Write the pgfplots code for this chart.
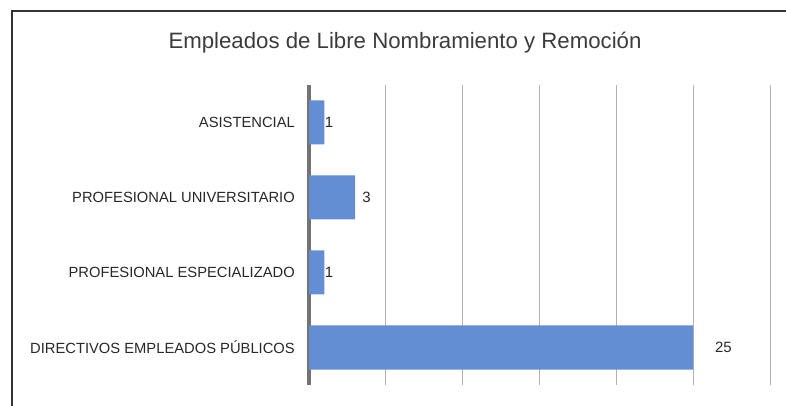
\documentclass[border=0pt]{standalone}
\usepackage{pgfplots}
\pgfplotsset{compat=1.18}
\usepackage{fontspec}
\setmainfont{Liberation Sans}
\definecolor{barblue}{RGB}{99,142,211}
\definecolor{titlegray}{RGB}{60,60,60}
\definecolor{labgray}{RGB}{40,40,40}
\begin{document}
\begin{tikzpicture}
\useasboundingbox (0,0) rectangle (786bp,406bp);
\fill[white] (0,0) rectangle (786bp,406bp);
\draw[line width=1.5bp, black!80] (12bp,-20bp) -- (12bp,395bp) -- (806bp,395bp);
\node[font=\fontsize{22.3}{26}\selectfont, text=titlegray] at (405bp,363bp) {Empleados de Libre Nombramiento y Remoción};
\begin{axis}[
  at={(309bp,21bp)}, anchor=south west,
  scale only axis, width=461bp, height=300bp,
  xmin=0, xmax=30, ymin=-0.5, ymax=3.5,
  axis y line*=left, axis x line*=bottom,
  x axis line style={draw=none},
  y axis line style={draw=black!55, line width=3bp},
  xtick={5,10,15,20,25,30}, xticklabels={},
  xmajorgrids, grid style={draw=black!30, line width=0.8bp},
  xtick style={draw=none}, ytick style={draw=none},
  ytick={0,1,2,3},
  yticklabels={DIRECTIVOS EMPLEADOS PÚBLICOS, PROFESIONAL ESPECIALIZADO, PROFESIONAL UNIVERSITARIO, ASISTENCIAL},
  yticklabel style={font=\fontsize{14.8}{16}\selectfont, text=labgray, inner sep=0pt, xshift=-14bp},
  clip=false,
]
\addplot[xbar, bar width=44bp, fill=barblue, draw=none] coordinates {(25,0) (1,1) (3,2) (1,3)};
\addplot[draw=none, mark=none, nodes near coords, point meta=explicit symbolic,
  nodes near coords style={anchor=center, font=\fontsize{15}{16}\selectfont, text=labgray}]
  coordinates {(26.97,0) [25] (1.3,1) [1] (3.74,2) [3] (1.3,3) [1]};
\end{axis}
\end{tikzpicture}
\end{document}
